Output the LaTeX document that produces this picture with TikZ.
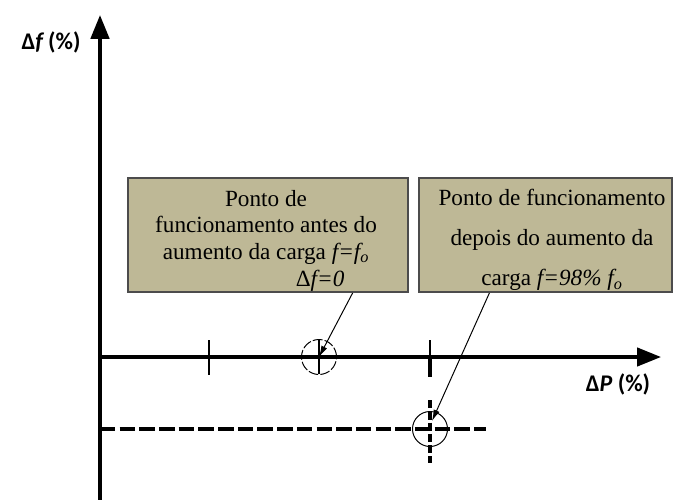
\documentclass[tikz,border=0pt]{standalone}
\usepackage{fontspec}
\setmainfont{Liberation Serif}
\newfontfamily\rotulofont{Carlito}[UprightFont={* Bold},ItalicFont={* Bold Italic}]
\usetikzlibrary{arrows.meta,calc}
\definecolor{caqui}{RGB}{190,184,150}
\tikzset{
  eixo/.style={line width=2.4pt,-{Triangle[length=17pt,width=13pt]}},
  marca/.style={line width=0.8pt},
  marcagrossa/.style={line width=2.6pt},
  tracejado/.style={line width=2.6pt,dash pattern=on 11pt off 3pt},
  caixa/.style={draw=black!70,line width=1.4pt,fill=caqui,inner sep=0pt},
  texto/.style={align=center,inner sep=0pt},
  ponteiro/.style={line width=0.7pt,-{Latex[length=8pt,width=4.5pt]}},
  ponto/.style={circle,draw,line width=0.7pt,minimum size=0.875cm,inner sep=0pt},
  rotulo/.style={font=\rotulofont\fontsize{17}{20}\selectfont,inner sep=0pt}
}
\begin{document}
\begin{tikzpicture}[x=0.025cm,y=-0.025cm]
\useasboundingbox (0,0) rectangle (678,500);

% eixos
\coordinate (O) at (100,357);
\coordinate (topo) at (100,15);
\coordinate (base) at (100,500);
\coordinate (dir) at (661,357);
\draw[eixo,line width=2.8pt] (base) -- (topo);
\draw[eixo] (O) -- (dir);
\node[rotulo] (df) at (51,42) {Δ\textit{f}\,(\%)};
\node[rotulo] (dP) at (618,384) {Δ\textit{P} (\%)};

% marcas no eixo
\draw[marca] (209,340) -- (209,375);
\draw[marca] (319,340) -- (319,374);
\draw[marca] (430,340) -- (430,357);
\draw[marcagrossa] (430,357) -- (430,377);
\draw[marcagrossa,dash pattern=on 6pt off 2pt] (430,400) -- (430,463);

% nova frequencia
\coordinate (n0) at (100,429);
\coordinate (n1) at (486,429);
\draw[tracejado] (n0) -- (n1);

% pontos de funcionamento
\node[ponto,dash pattern=on 7pt off 1.5pt] (p1) at (319,357) {};
\node[ponto] (p2) at (430,429) {};

% caixas
\node[caixa,minimum width=7cm,minimum height=2.85cm] (cx1) at (268,235) {};
\node[texto,font=\fontsize{16.5}{18.8}\selectfont] (t1) at (266,241)
  {Ponto de\\funcionamento antes do\\aumento da carga \textit{f=f\textsubscript{o}}\\[1pt]\hspace*{77pt}Δ\textit{f=0}};
\node[caixa,minimum width=6.325cm,minimum height=2.85cm] (cx2) at (545.5,235) {};
\node[texto,font=\fontsize{16.5}{28.4}\selectfont] (t2) at (552,240)
  {Ponto de funcionamento\\depois do aumento da\\carga \textit{f=98\% f\textsubscript{o}}};

% ponteiros
\draw[ponteiro] ($(cx1.south west)!0.8!(cx1.south east)$) -- (p1.center);
\draw[ponteiro] ($(cx2.south west)!0.28!(cx2.south east)$) -- ($(p2.center)+(2,-8)$);
\end{tikzpicture}
\end{document}
